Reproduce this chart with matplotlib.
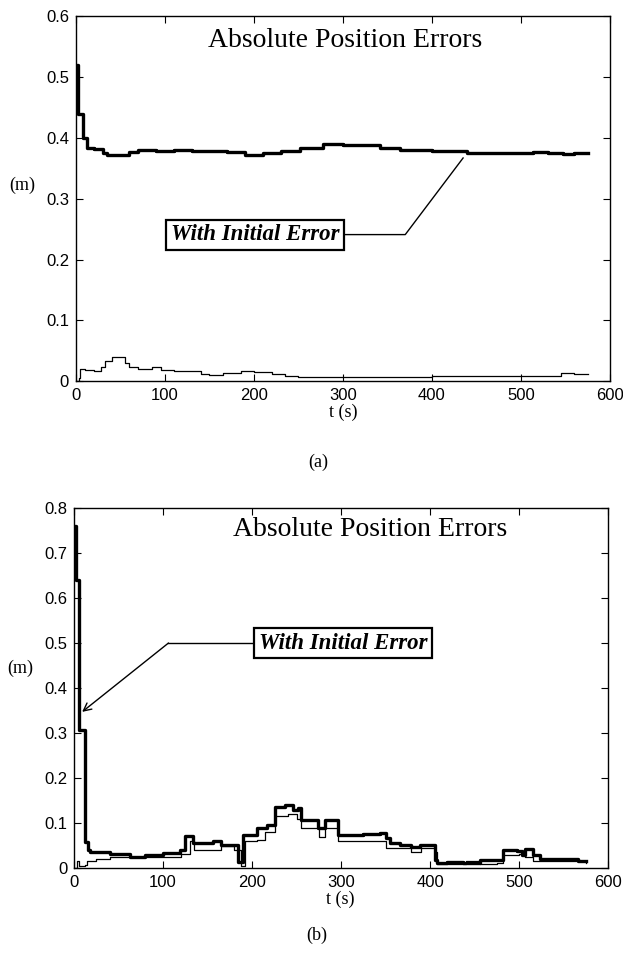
import matplotlib.pyplot as plt

plt.rcParams['font.family'] = 'Liberation Sans'
serif = 'Liberation Serif'

# (a) errors over time, step data
t_a_init = [0, 2, 8, 12, 20, 30, 35, 50, 60, 70, 90, 110, 130, 150, 170, 190, 210, 230,
            252, 278, 300, 327, 342, 364, 400, 439, 480, 514, 530, 547, 560, 575]
e_a_init = [0.52, 0.44, 0.40, 0.383, 0.381, 0.376, 0.372, 0.372, 0.377, 0.380, 0.379, 0.380,
            0.378, 0.379, 0.377, 0.372, 0.375, 0.379, 0.384, 0.390, 0.388, 0.389, 0.384,
            0.380, 0.378, 0.375, 0.376, 0.377, 0.376, 0.373, 0.375, 0.375]
t_a_ref = [0, 3, 5, 10, 20, 28, 33, 40, 55, 60, 70, 85, 95, 110, 125, 140, 150, 165, 185,
           200, 220, 235, 250, 300, 350, 400, 450, 500, 530, 545, 560, 575]
e_a_ref = [0.0, 0.005, 0.02, 0.019, 0.016, 0.023, 0.033, 0.040, 0.030, 0.024, 0.020, 0.024,
           0.018, 0.016, 0.017, 0.012, 0.010, 0.013, 0.017, 0.015, 0.012, 0.008, 0.007,
           0.007, 0.007, 0.008, 0.009, 0.009, 0.008, 0.014, 0.012, 0.012]

# (b) errors over time, step data
t_b_init = [0, 2, 6, 12, 16, 18, 40, 63, 80, 100, 119, 125, 134, 156, 165, 181, 184, 190,
            205, 217, 226, 237, 246, 252, 255, 274, 282, 297, 325, 344, 351, 355, 366, 378,
            389, 406, 408, 419, 437, 456, 475, 482, 498, 503, 507, 516, 524, 566, 575]
e_b_init = [0.76, 0.64, 0.307, 0.058, 0.04, 0.036, 0.032, 0.025, 0.03, 0.033, 0.04, 0.071,
            0.055, 0.06, 0.051, 0.051, 0.014, 0.073, 0.088, 0.096, 0.136, 0.14, 0.13, 0.133,
            0.107, 0.088, 0.107, 0.073, 0.075, 0.078, 0.066, 0.056, 0.052, 0.047, 0.051,
            0.018, 0.011, 0.013, 0.012, 0.018, 0.018, 0.040, 0.038, 0.030, 0.042, 0.030,
            0.020, 0.016, 0.016]
t_b_ref = [0, 3, 6, 12, 15, 25, 40, 60, 100, 120, 130, 135, 150, 165, 180, 188, 192, 205,
           215, 226, 240, 250, 255, 275, 282, 297, 325, 344, 351, 378, 390, 406, 408, 440,
           456, 475, 482, 500, 507, 516, 560, 575]
e_b_ref = [0.0, 0.015, 0.005, 0.007, 0.016, 0.02, 0.025, 0.025, 0.025, 0.032, 0.06, 0.04,
           0.04, 0.048, 0.04, 0.005, 0.06, 0.062, 0.08, 0.115, 0.12, 0.11, 0.09, 0.07, 0.09,
           0.06, 0.06, 0.06, 0.045, 0.035, 0.045, 0.035, 0.008, 0.015, 0.01, 0.012, 0.03,
           0.032, 0.025, 0.015, 0.015, 0.012]

fig = plt.figure(figsize=(6.23, 9.6), dpi=100)
ax1 = fig.add_axes([0.122, 0.603, 0.857, 0.380])
ax2 = fig.add_axes([0.119, 0.0958, 0.857, 0.375])

ax1.step(t_a_init, e_a_init, where='post', color='black', linewidth=2.4)
ax1.step(t_a_ref, e_a_ref, where='post', color='black', linewidth=0.9)
ax2.step(t_b_init, e_b_init, where='post', color='black', linewidth=2.4)
ax2.step(t_b_ref, e_b_ref, where='post', color='black', linewidth=0.9)

ax1.set_ylim(0, 0.6)
ax2.set_ylim(0, 0.8)
for ax in (ax1, ax2):
    ax.set_xlim(0, 600)
    ax.set_xticks([0, 100, 200, 300, 400, 500, 600])
    ax.tick_params(direction='in', top=True, right=True, labelsize=12, length=5)
    ax.tick_params(axis='x', pad=5)
    ax.tick_params(axis='y', pad=5)
    for s in ax.spines.values():
        s.set_linewidth(1.0)

ax1.set_yticks([0, 0.1, 0.2, 0.3, 0.4, 0.5, 0.6])
ax1.set_yticklabels(['0', '0.1', '0.2', '0.3', '0.4', '0.5', '0.6'])
ax2.set_yticks([0, 0.1, 0.2, 0.3, 0.4, 0.5, 0.6, 0.7, 0.8])
ax2.set_yticklabels(['0', '0.1', '0.2', '0.3', '0.4', '0.5', '0.6', '0.7', '0.8'])

ax1.text(0.504, 0.934, 'Absolute Position Errors', transform=ax1.transAxes,
         ha='center', va='center', fontsize=20, family=serif)
ax2.text(0.554, 0.939, 'Absolute Position Errors', transform=ax2.transAxes,
         ha='center', va='center', fontsize=20, family=serif)

box = dict(boxstyle='square,pad=0.2', facecolor='white', edgecolor='black', linewidth=1.6)

# (a) callout: box, horizontal leader, diagonal to the curve
ax1.plot([435, 370, 303], [0.367, 0.241, 0.241], color='black', linewidth=1.0)
ax1.text(201, 0.241, 'With Initial Error', ha='center', va='center', fontsize=16.5,
         family=serif, weight='bold', style='italic', bbox=box)

# (b) callout with open arrowhead at the step
ax2.annotate('', xy=(9, 0.347), xytext=(106, 0.5),
             arrowprops=dict(arrowstyle='->', color='black', linewidth=1.0,
                             mutation_scale=14, shrinkA=0, shrinkB=0))
ax2.plot([106, 200], [0.5, 0.5], color='black', linewidth=1.0)
ax2.text(302, 0.5, 'With Initial Error', ha='center', va='center', fontsize=16.5,
         family=serif, weight='bold', style='italic', bbox=box)

fig.text(22 / 623, 1 - 185 / 960, '(m)', ha='center', va='center', fontsize=13, family=serif)
fig.text(20 / 623, 1 - 668 / 960, '(m)', ha='center', va='center', fontsize=13, family=serif)
fig.text(343 / 623, 1 - 412 / 960, 't (s)', ha='center', va='center', fontsize=13, family=serif)
fig.text(340 / 623, 1 - 899 / 960, 't (s)', ha='center', va='center', fontsize=13, family=serif)
fig.text(318 / 623, 1 - 462 / 960, '(a)', ha='center', va='center', fontsize=13, family=serif)
fig.text(317 / 623, 1 - 935 / 960, '(b)', ha='center', va='center', fontsize=13, family=serif)

fig.savefig('out.png', dpi=100)
